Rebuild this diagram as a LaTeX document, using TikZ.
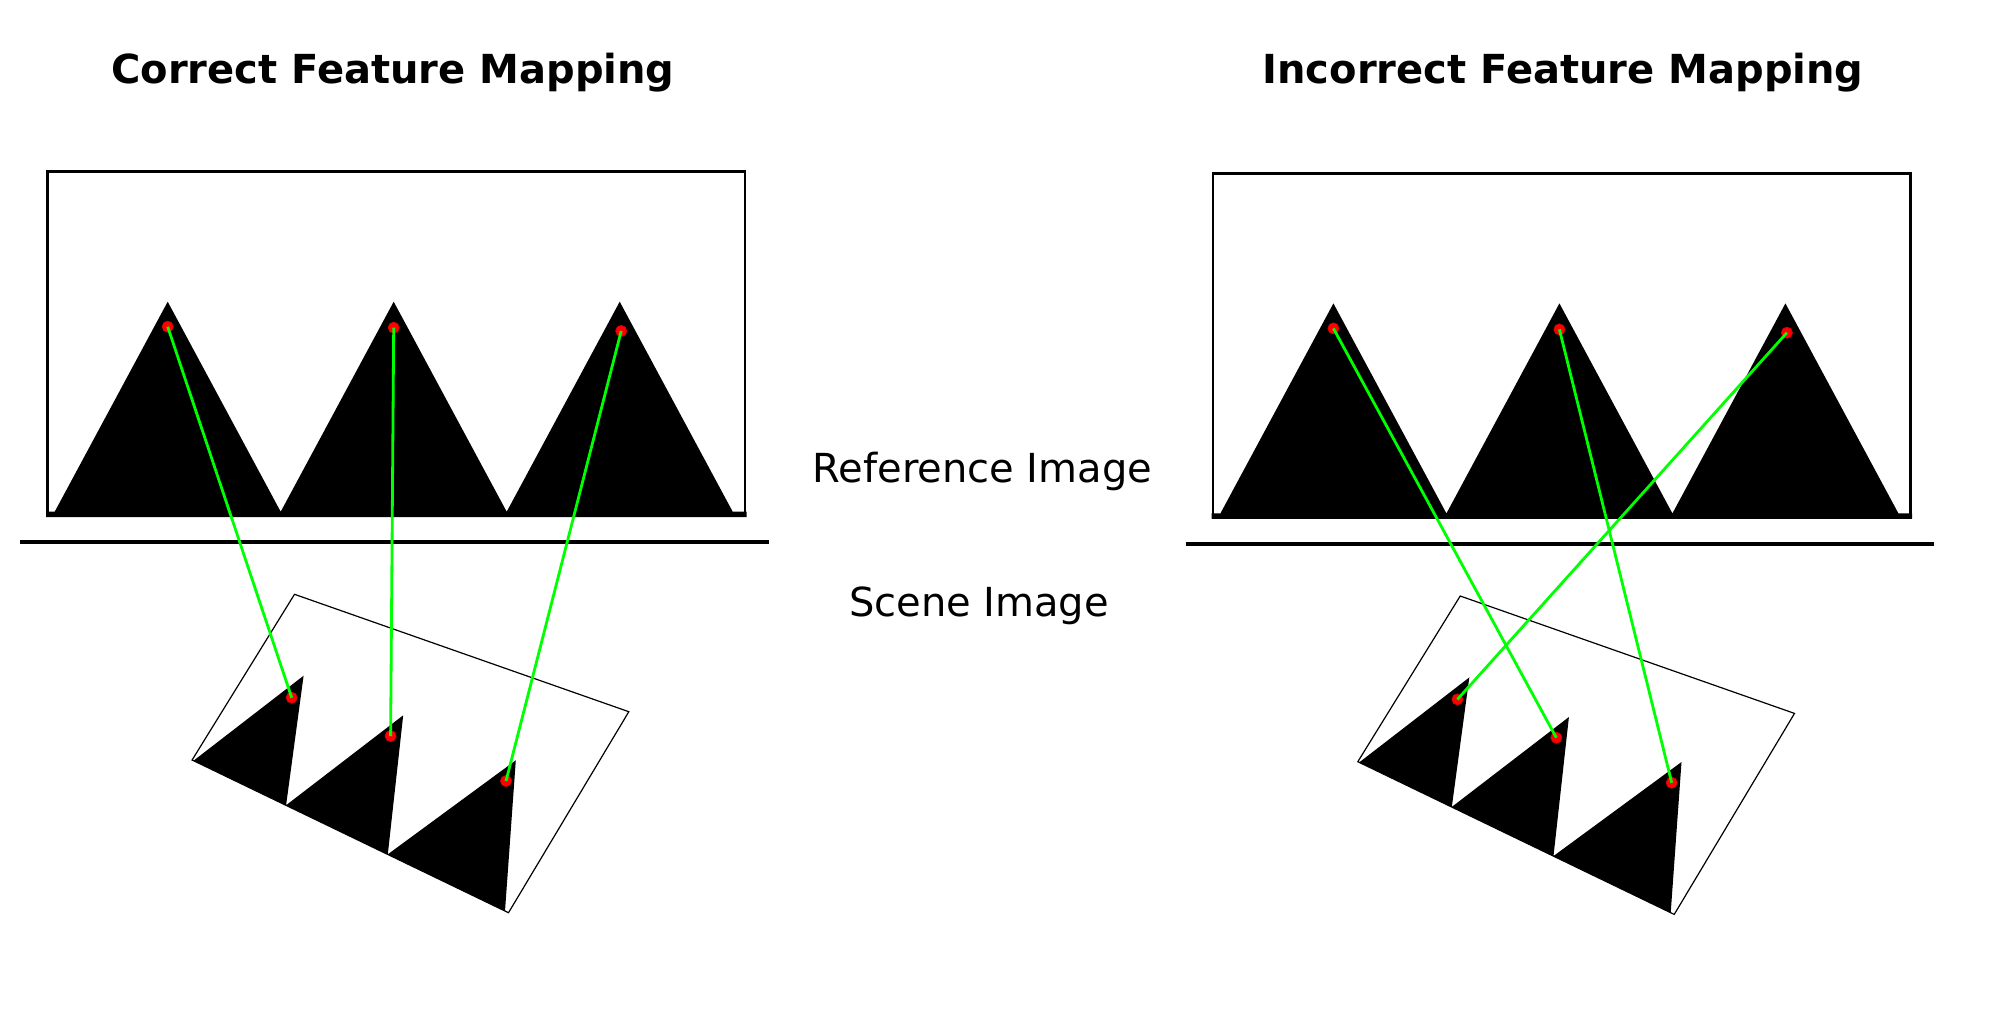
\documentclass[tikz,border=0pt]{standalone}
\usepackage{fontspec}
\setmainfont{DejaVu Sans}
\definecolor{matchgreen}{RGB}{0,255,0}
\definecolor{kpred}{RGB}{255,0,0}

\newcommand{\featurepanel}[1]{%
    % reference image
    \fill (46,517) -- (46,511.7) -- (54.7,511.7) -- (167.7,301.7) -- (280.7,511.7) -- (393.7,301.7) -- (506.7,511.7) -- (619.7,301.7) -- (732.7,511.7) -- (746.5,511.7) -- (746.5,517) -- cycle;
    \draw [frame] (47.3,171.5) rectangle (745,515.5);
    \draw [divider] (20,542.2) -- (768.7,542.2);
    % scene image
    \fill (193.5,760.7) -- (303.6,675.7) -- (286.1,805.2) -- (403.2,715.3) -- (387.8,854.3) -- (515.8,760.3) -- (505,911) -- cycle;
    \draw [warp] (294.5,594.3) -- (628.8,711.7) -- (508.5,912.7) -- (192.1,760) -- cycle;
    \node [kp] (#1r1) at (167.7,326.7) {};
    \node [kp] (#1r2) at (393.7,327.7) {};
    \node [kp] (#1r3) at (621.2,331) {};
    \node [kp] (#1s1) at (291.7,697.7) {};
    \node [kp] (#1s2) at (390.6,736) {};
    \node [kp] (#1s3) at (506,781) {};
}

\begin{document}
\begin{tikzpicture}[x=0.5pt, y=-0.5pt,
    frame/.style={draw, line width=1.4pt},
    divider/.style={draw, line width=1.85pt},
    warp/.style={draw, line width=0.6pt},
    kp/.style={circle, fill=kpred, draw=kpred!85!black, line width=0.3pt, inner sep=0pt, minimum size=5.6pt},
    match/.style={draw=matchgreen, line width=1.4pt},
    heading/.style={font=\fontsize{20}{24}\selectfont\bfseries, anchor=base, inner sep=0pt},
    caption/.style={font=\fontsize{20}{24}\selectfont, anchor=base, inner sep=0pt}]
    \useasboundingbox (0,0) rectangle (2000,1023);
    \fill [white] (0,0) rectangle (2000,1023);

    \node [heading] (ctitle) at (393,83.9) {Correct Feature Mapping};
    \node [heading] (ititle) at (1563,83.6) {Incorrect Feature Mapping};
    \node [caption] (refname) at (982.5,482.3) {Reference Image};
    \node [caption] (scenename) at (979,616.7) {Scene Image};

    \featurepanel{c}
    \begin{scope}[shift={(1165.7,1.7)}]
        \featurepanel{i}
    \end{scope}

    \draw [match] (cr1.center) -- (cs1.center);
    \draw [match] (cr2.center) -- (cs2.center);
    \draw [match] (cr3.center) -- (cs3.center);
    \draw [match] (ir1.center) -- (is2.center);
    \draw [match] (ir2.center) -- (is3.center);
    \draw [match] (ir3.center) -- (is1.center);
\end{tikzpicture}
\end{document}
